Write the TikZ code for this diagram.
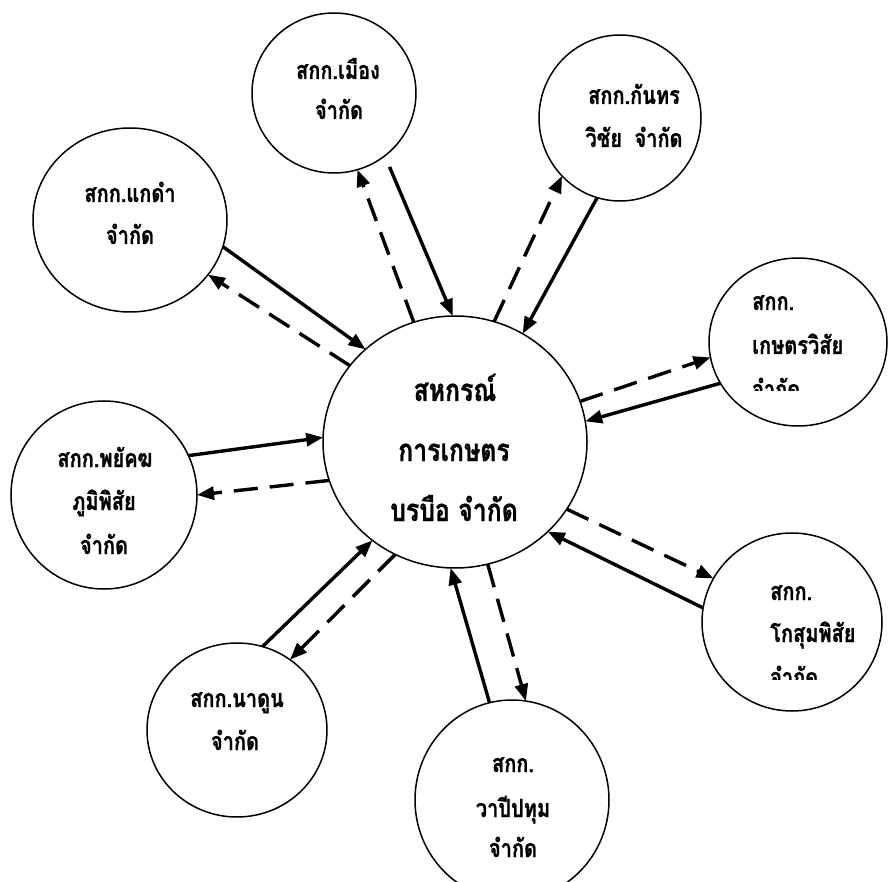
\documentclass[tikz,border=0pt]{standalone}
\usepackage{fontspec}
\newfontfamily\thaifont[Script=Thai,FakeStretch=0.8,BoldFeatures={FakeBold=0.8}]{Loma}
\usetikzlibrary{shapes.geometric,arrows.meta}
\begin{document}
\begin{tikzpicture}[x=1pt,y=-1pt,
  coop/.style={ellipse, draw, line width=1.5pt, inner sep=0pt, outer sep=0pt},
  lbl/.style={font=\thaifont\bfseries\fontsize{25}{25}\selectfont, inner sep=0pt, anchor=base},
  biglbl/.style={font=\thaifont\bfseries\fontsize{31}{31}\selectfont, inner sep=0pt, anchor=base},
  flow/.style={line width=3.4pt, -{Triangle[length=17pt,width=13pt]}},
  back/.style={flow, dash pattern=on 24pt off 12pt},
]
\useasboundingbox[fill=white] (0,0) rectangle (889,882);
\clip (0,0) rectangle (889,882);

% circles
\node[coop, minimum width=264pt, minimum height=252pt] (C) at (455,442) {};
\node[coop, minimum width=164pt, minimum height=160pt] (M) at (334,93) {};
\node[coop, minimum width=162pt, minimum height=166pt] (K) at (620,118) {};
\node[coop, minimum width=194pt, minimum height=184pt] (G) at (130,220) {};
\node[coop, minimum width=178pt, minimum height=168pt] (S) at (798,342) {};
\node[coop, minimum width=186pt, minimum height=188pt] (P) at (104,495) {};
\node[coop, minimum width=180pt, minimum height=174pt] (N) at (237,730) {};
\node[coop, minimum width=194pt, minimum height=200pt] (W) at (512,800) {};
\node[coop, minimum width=180pt, minimum height=178pt] (O) at (792,622) {};

% texts
\node[biglbl] (Ct1) at (455,401) {สหกรณ์};
\node[biglbl] (Ct2) at (454,461) {การเกษตร};
\node[biglbl] (Ct3) at (454,521) {บรบือ จำกัด};

\node[lbl] (Mt1) at (338,79) {สกก.เมือง};
\node[lbl] (Mt2) at (339,119) {จำกัด};

\node[lbl] (Kt1) at (634,104) {สกก.กันทร};
\node[lbl] (Kt2) at (634,147) {วิชัย\hspace{0.5em}จำกัด};

\node[lbl] (Gt1) at (130,202) {สกก.แกดำ};
\node[lbl] (Gt2) at (130,244) {จำกัด};

\node[lbl, anchor=base west] (St1) at (752,310) {สกก.};
\node[lbl, anchor=base west] (St2) at (752,354) {เกษตรวิสัย};
\begin{scope}
  \clip (740,362) rectangle (860,391);
  \node[lbl, anchor=base west] (St3) at (752,398) {จำกัด};
\end{scope}

\node[lbl] (Pt1) at (105,467) {สกก.พยัคฆ};
\node[lbl] (Pt2) at (104,510) {ภูมิพิสัย};
\node[lbl] (Pt3) at (104,554) {จำกัด};

\node[lbl] (Nt1) at (237,707) {สกก.นาดูน};
\node[lbl] (Nt2) at (235,750) {จำกัด};

\node[lbl] (Wt1) at (513,772) {สกก.};
\node[lbl] (Wt2) at (513,817) {วาปีปทุม};
\node[lbl] (Wt3) at (513,857) {จำกัด};

\node[lbl, anchor=base west] (Ot1) at (770,600) {สกก.};
\node[lbl, anchor=base west] (Ot2) at (770,642) {โกสุมพิสัย};
\begin{scope}
  \clip (760,652) rectangle (860,679);
  \node[lbl, anchor=base west] (Ot3) at (770,686) {จำกัด};
\end{scope}

% connectors
\draw[flow] (G.-16.8) -- (C.134.7);
\draw[back] (C.144.9) -- (G.-35.9);
\draw[back] (C.109.3) -- (M.-73.1);
\draw[flow, shorten <=12pt] (M.-51.2) -- (C.91);
\draw[back] (C.72.9) -- (K.-135);
\draw[flow] (K.-106) -- (C.58.8);
\draw[back] (C.18.9) -- (S.-170.8);
\draw[flow] (S.-152.2) -- (C.9.8);
\draw[flow] (P.25.1) -- (C.178.3);
\draw[back] (C.-163.6) -- (P.-0.7);
\draw[flow] (N.73) -- (C.-130.4);
\draw[back] (C.-118.4) -- (N.53.6);
\draw[flow] (W.103) -- (C.-92.2);
\draw[back] (C.-75.5) -- (W.82.8);
\draw[back] (C.-31.7) -- (O.151.6);
\draw[flow] (O.171.1) -- (C.-44.4);
\end{tikzpicture}
\end{document}
